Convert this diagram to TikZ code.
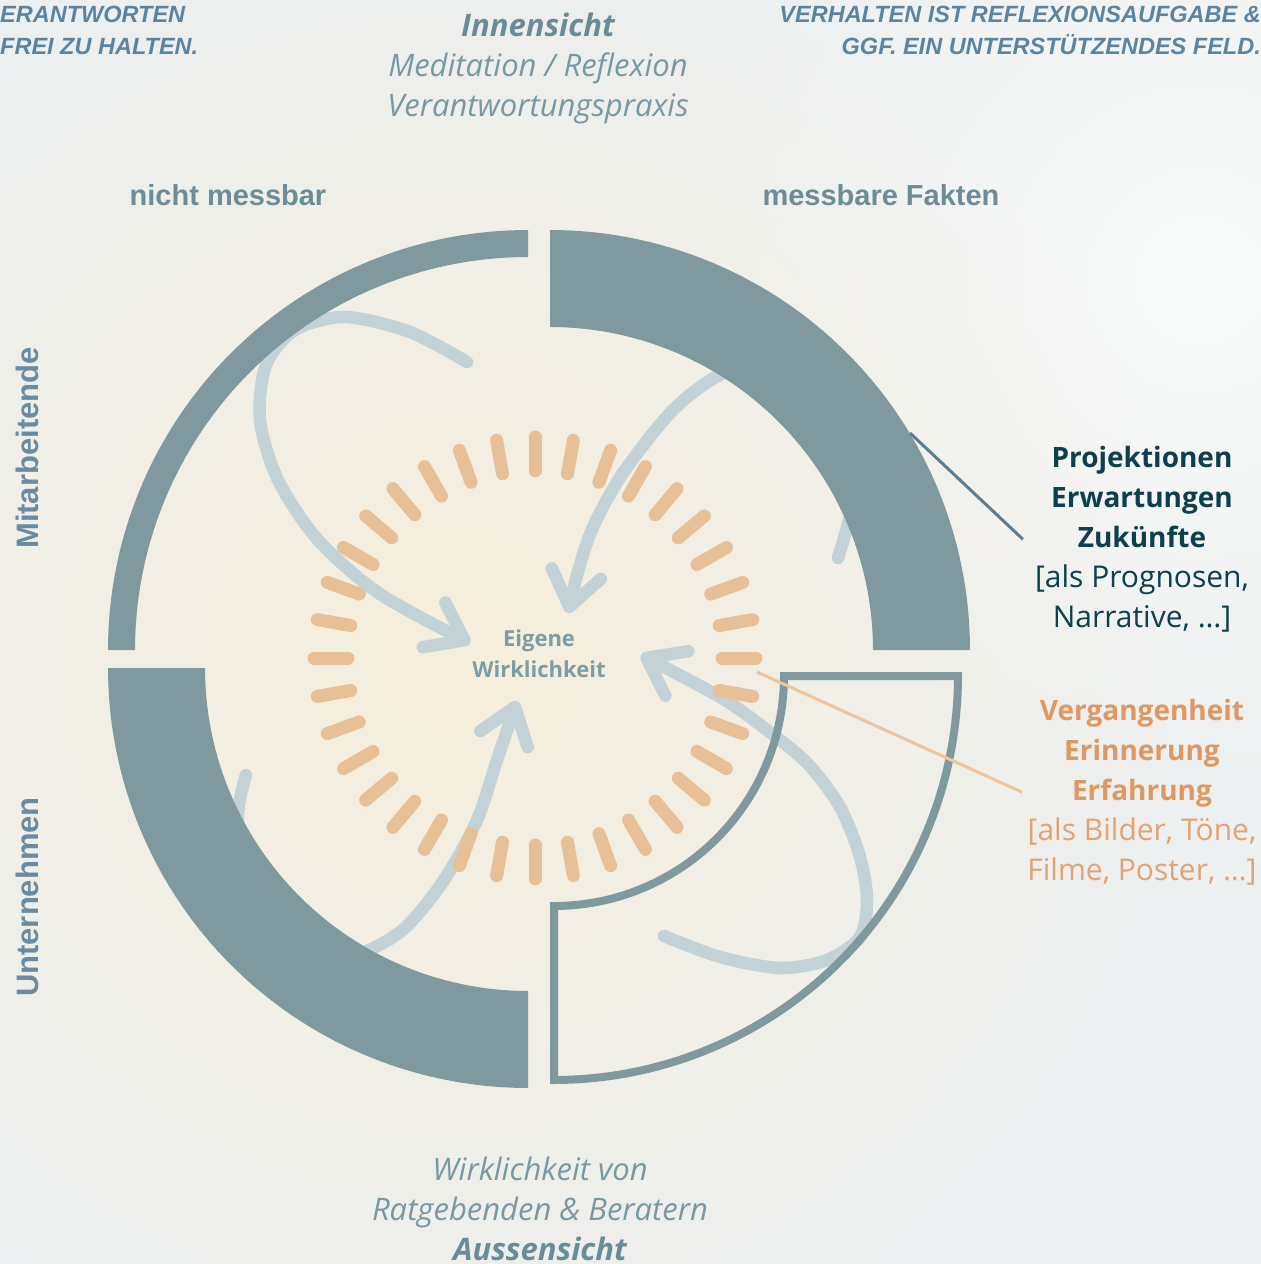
\documentclass[tikz,border=0pt]{standalone}
\usepackage{fontspec}
\setmainfont{Open Sans}
\newfontfamily\arialfont{Liberation Sans}
\usetikzlibrary{arrows.meta,fadings}

\definecolor{bgbase}{HTML}{EDF0F0}
\definecolor{bgcream}{HTML}{F6EEDC}
\definecolor{bandteal}{HTML}{7F999F}
\definecolor{flowblue}{HTML}{C3D2D6}
\definecolor{rayorange}{HTML}{E8C097}
\definecolor{capsblue}{HTML}{5B84A0}
\definecolor{headgray}{HTML}{6A8C99}
\definecolor{viewgray}{HTML}{7899A4}
\definecolor{labelgray}{HTML}{6C8D98}
\definecolor{sidegray}{HTML}{6A8CA2}
\definecolor{darkteal}{HTML}{0E3F4C}
\definecolor{pastorange}{HTML}{DF9860}
\definecolor{pastlight}{HTML}{E4A272}
\definecolor{coreteal}{HTML}{7D9CA3}
\definecolor{futureline}{HTML}{5A7E92}
\definecolor{pastline}{HTML}{EEC49C}

\tikzfading[name=softspot, inner color=transparent!0, outer color=transparent!100]

\begin{document}
\begin{tikzpicture}[x=1pt, y=-1pt,
    band/.style={fill=bandteal, draw=none},
    rim/.style={draw=bandteal, line width=8pt, line join=miter},
    ray/.style={draw=rayorange, line width=13pt, line cap=round},
    flow/.style={draw=flowblue, line width=12.5pt, line cap=round, line join=round,
                 -{Straight Barb[round, length=34pt, width=50pt]}},
    leader/.style={line width=3pt},
    capsnote/.style={font=\arialfont\bfseries\itshape\fontsize{23.5}{32}\selectfont, text=capsblue, inner sep=0pt},
    view/.style={font=\itshape\fontsize{31}{40}\selectfont, text=viewgray, align=center, inner sep=0pt},
    axislabel/.style={font=\arialfont\bfseries\fontsize{29}{34}\selectfont, text=labelgray, inner sep=0pt},
    keyblock/.style={font=\fontsize{30}{40}\selectfont, align=center, inner sep=0pt}]

    \useasboundingbox (0,0) rectangle (1261,1264);
    \clip (0,0) rectangle (1261,1264);

    % background wash
    \fill[bgbase] (0,0) rectangle (1261,1264);
    \fill[white, opacity=0.7, path fading=softspot] (1200,280) circle (520);
    \fill[bgcream, path fading=softspot] (450,660) circle (720);

    % light arrows towards the centre
    \draw[flow] plot[smooth] coordinates {(467,362) (410,332) (345,317) (295,330) (266,365) (260,420) (278,480) (318,540) (380,594) (470,643)};
    \draw[flow] plot[smooth] coordinates {(838,558) (850,515) (858,455) (835,395) (785,360) (722,374) (673,410) (623,473) (593,527) (577,575) (568,613)};
    \draw[flow] plot[smooth] coordinates {(664,936) (720,957) (780,968) (827,960) (860,937) (867,900) (860,857) (840,807) (807,763) (763,727) (720,697) (641,655)};
    \draw[flow] plot[smooth] coordinates {(246,775) (238,815) (245,880) (280,935) (330,960) (369,950) (406,927) (444,880) (477,820) (497,760) (517,701)};

    % ring of rays
    \foreach \a in {0,10,...,350}
        \draw[ray] ({535+187*cos(\a)},{658+187*sin(\a)}) -- ({535+221*cos(\a)},{658+221*sin(\a)});

    % quarter bands
    \fill[band] plot[domain=180:270, samples=80] ({528+420*cos(\x)},{650+420*sin(\x)})
        -- plot[domain=270:180, samples=80] ({528+393*cos(\x)},{650+393*sin(\x)}) -- cycle;
    \fill[band] plot[domain=270:360, samples=80] ({550+420*cos(\x)},{650+420*sin(\x)})
        -- plot[domain=360:270, samples=80] ({550+323*cos(\x)},{650+323*sin(\x)}) -- cycle;
    \fill[band] plot[domain=90:180, samples=80] ({528+420*cos(\x)},{668+420*sin(\x)})
        -- plot[domain=180:90, samples=80] ({528+323*cos(\x)},{668+323*sin(\x)}) -- cycle;
    \draw[rim] plot[domain=0:90, samples=80] ({554+404*cos(\x)},{676+404*sin(\x)})
        -- plot[domain=90:0, samples=80] ({554+230*cos(\x)},{676+230*sin(\x)}) -- cycle;

    % texts
    \node[capsnote, align=left, anchor=north west] (capsleft) at (0,6) {ERANTWORTEN\\FREI ZU HALTEN.};
    \node[capsnote, align=right, anchor=north east] (capsright) at (1261,6) {VERHALTEN IST REFLEXIONSAUFGABE \&\\GGF. EIN UNTERSTÜTZENDES FELD.};

    \node[view, anchor=north] (inner) at (538,13) {\textcolor{headgray}{\textbf{Innensicht}}\\Meditation / Reflexion\\Verantwortungspraxis};
    \node[view, anchor=north] (outer) at (540,1157) {Wirklichkeit von\\Ratgebenden \& Beratern\\\textcolor{headgray}{\textbf{Aussensicht}}};

    \node[axislabel] (unmeasured) at (228,195) {nicht messbar};
    \node[axislabel] (measured) at (881,195) {messbare Fakten};
    \node[axislabel, rotate=90, text=sidegray, font=\arialfont\bfseries\fontsize{31}{34}\selectfont] (staff) at (27,448) {Mitarbeitende};
    \node[axislabel, rotate=90, text=sidegray, font=\arialfont\bfseries\fontsize{31}{34}\selectfont] (company) at (27,897) {Unternehmen};

    \node[keyblock, text=darkteal, anchor=north] (future) at (1142,446)
        {\fontsize{28}{40}\selectfont\textbf{Projektionen}\\\fontsize{28}{40}\selectfont\textbf{Erwartungen}\\\fontsize{28}{40}\selectfont\textbf{Zukünfte}\\{[}als Prognosen,\\Narrative, …{]}};
    \node[keyblock, text=pastlight, anchor=north] (past) at (1142,699)
        {\fontsize{28}{40}\selectfont\textcolor{pastorange}{\textbf{Vergangenheit}}\\\fontsize{28}{40}\selectfont\textcolor{pastorange}{\textbf{Erinnerung}}\\\fontsize{28}{40}\selectfont\textcolor{pastorange}{\textbf{Erfahrung}}\\{[}als Bilder, Töne,\\Filme, Poster, …{]}};

    \node[font=\bfseries\fontsize{22}{31}\selectfont, text=coreteal, align=center, inner sep=0pt] (core) at (539,654) {Eigene\\Wirklichkeit};

    % leader lines
    \coordinate (futuretip) at (910,433);
    \coordinate (pasttip) at (757,672);
    \draw[leader, draw=futureline] (futuretip) -- ([xshift=-12pt]future.west);
    \draw[leader, draw=pastline] (pasttip) -- ([xshift=-5pt]past.west);
\end{tikzpicture}
\end{document}
